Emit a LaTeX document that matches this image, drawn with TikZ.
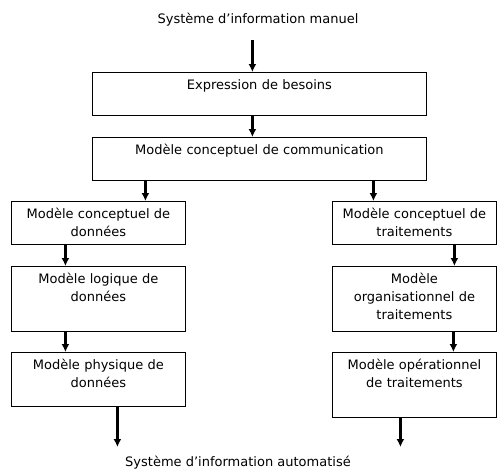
\documentclass[tikz,border=0pt]{standalone}
\usepackage{fontspec}
\setmainfont{DejaVu Sans}
\usepackage{tikz}
\usetikzlibrary{arrows.meta}

\tikzset{
  boite/.style 2 args={draw, line width=0.8pt, anchor=north west, inner xsep=3pt, inner ysep=4pt,
    text height=13pt, text depth=#2, text width=#1, align=center},
  fleche/.style={line width=2.5pt, -{Latex[length=8pt,width=8pt]}},
  titre/.style={inner sep=0pt}
}

\begin{document}
\begin{tikzpicture}[x=1pt, y=-1pt, font=\fontsize{13}{18}\selectfont]
\useasboundingbox (0,0) rectangle (497,471);

\node[titre] (manuel) at (258,20) {Système d’information manuel};
\coordinate (debut) at (252.4,40);

\node[boite={328pt}{22pt}] (besoins) at (92,72) {Expression de besoins};
\node[boite={328pt}{22pt}] (mcc) at (92,137) {Modèle conceptuel de communication};

% branche donnees
\node[boite={168pt}{22pt}] (mcd) at (11,201) {Modèle conceptuel de\\données};
\node[boite={168pt}{44pt}] (mld) at (11,266) {Modèle logique de\\données};
\node[boite={168pt}{33pt}] (mpd) at (11,352) {Modèle physique de\\données};

% branche traitements
\node[boite={158pt}{22pt}] (mct) at (332,201) {Modèle conceptuel de\\traitements};
\node[boite={158pt}{44pt}] (mot) at (332,266) {Modèle\\organisationnel de\\traitements};
\node[boite={158pt}{44pt}] (mopt) at (332,352) {Modèle opérationnel\\de traitements};

\node[titre] (auto) at (238,463) {Système d’information automatisé};
\coordinate (finA) at (117.4,447);
\coordinate (finB) at (400.4,447);

\draw[fleche] (debut) -- (debut |- besoins.north);
\draw[fleche] ([xshift=-7pt]besoins.south) -- ([xshift=-7pt]mcc.north);
\draw[fleche] ([xshift=47pt]mcd.north |- mcc.south) -- ([xshift=47pt]mcd.north);
\draw[fleche] ([xshift=-41pt]mct.north |- mcc.south) -- ([xshift=-41pt]mct.north);

\draw[fleche] ([xshift=-33pt]mcd.south) -- ([xshift=-33pt]mld.north);
\draw[fleche] ([xshift=-33pt]mld.south) -- ([xshift=-33pt]mpd.north);
\draw[fleche] (finA |- mpd.south) -- (finA);

\draw[fleche] ([xshift=40pt]mct.south) -- ([xshift=40pt]mot.north);
\draw[fleche] ([xshift=39pt]mot.south) -- ([xshift=39pt]mopt.north);
\draw[fleche] (finB |- mopt.south) -- (finB);
\end{tikzpicture}
\end{document}
